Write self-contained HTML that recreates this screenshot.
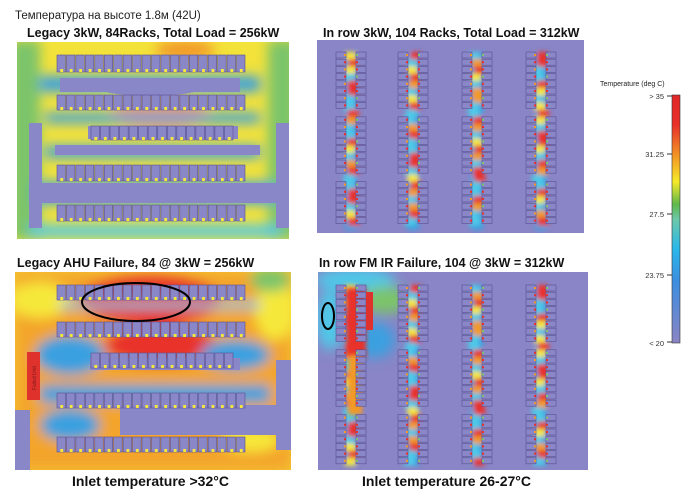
<!DOCTYPE html>
<html><head><meta charset="utf-8"><style>
body{margin:0;background:#fff;width:694px;height:493px;overflow:hidden;font-family:"Liberation Sans","DejaVu Sans",sans-serif}
svg{position:absolute;left:0;top:0}
</style></head><body>
<svg id="s" width="694" height="493" viewBox="0 0 694 493" xmlns="http://www.w3.org/2000/svg">
<defs>
<filter id="b6" x="-20%" y="-20%" width="140%" height="140%"><feGaussianBlur stdDeviation="6"/></filter>
<filter id="b3" x="-20%" y="-20%" width="140%" height="140%"><feGaussianBlur stdDeviation="2.5"/></filter>
<clipPath id="c1"><rect x="17" y="42" width="272" height="197"/></clipPath>
<clipPath id="c2"><rect x="317" y="40" width="267" height="193"/></clipPath>
<clipPath id="c3"><rect x="15" y="272" width="276" height="198"/></clipPath>
<clipPath id="c4"><rect x="318" y="272" width="270" height="198"/></clipPath>
<linearGradient id="cb" x1="0" y1="1" x2="0" y2="0">
<stop offset="0" stop-color="#8a84c4"/><stop offset="0.25" stop-color="#3c8ee0"/><stop offset="0.38" stop-color="#2ab8ea"/><stop offset="0.5" stop-color="#6cc8a8"/><stop offset="0.56" stop-color="#5fb84a"/><stop offset="0.65" stop-color="#f6ea2a"/><stop offset="0.75" stop-color="#f39a25"/><stop offset="0.88" stop-color="#e8302a"/><stop offset="1" stop-color="#e02828"/>
</linearGradient>
</defs>
<text x="15" y="19" font-size="11.5" fill="#222">Температура на высоте 1.8м (42U)</text>
<text x="27" y="37" font-size="12.5" font-weight="bold" fill="#111">Legacy 3kW, 84Racks, Total Load = 256kW</text>
<text x="323" y="37" font-size="12.5" font-weight="bold" fill="#111">In row 3kW, 104 Racks, Total Load = 312kW</text>
<text x="17" y="267" font-size="12.5" font-weight="bold" fill="#111">Legacy AHU Failure, 84 @ 3kW = 256kW</text>
<text x="319" y="267" font-size="12.5" font-weight="bold" fill="#111">In row FM IR Failure, 104 @ 3kW = 312kW</text>
<text x="72" y="486" font-size="14" font-weight="bold" fill="#111">Inlet temperature &gt;32°C</text>
<text x="362" y="486" font-size="14" font-weight="bold" fill="#111">Inlet temperature 26-27°C</text>

<g clip-path="url(#c1)">
<rect x="17" y="42" width="272" height="197" fill="#f3e23a"/>
<g filter="url(#b6)">
<rect x="10" y="40" width="30" height="200" fill="#7cc46a"/>
<rect x="268" y="40" width="30" height="200" fill="#7cc46a"/>
<ellipse cx="160" cy="115" rx="50" ry="15" fill="#f29a2a"/>
<ellipse cx="185" cy="50" rx="30" ry="10" fill="#f29a2a"/>
<rect x="40" y="76" width="220" height="16" fill="#3aa0e0"/>
<rect x="45" y="113" width="215" height="10" fill="#3aa0e0"/>
<rect x="45" y="146" width="215" height="12" fill="#3aa0e0"/>
<rect x="35" y="182" width="240" height="22" fill="#3aa0e0"/>
<rect x="30" y="225" width="250" height="12" fill="#4fc8e8"/>
</g>
<rect x="60" y="78" width="180" height="14" fill="#8a87c9"/>
<ellipse cx="150" cy="88" rx="50" ry="8" fill="#8a87c9"/>
<rect x="55" y="145" width="205" height="10" fill="#8a87c9"/>
<rect x="88" y="126" width="150" height="13" fill="#8a87c9"/>
<rect x="29" y="183" width="250" height="20" fill="#8a87c9"/>
<rect x="29" y="123" width="13" height="105" fill="#8a87c9"/>
<rect x="276" y="123" width="13" height="105" fill="#8a87c9"/>
<g id="r1"></g>
</g>

<g clip-path="url(#c2)">
<rect x="317" y="40" width="267" height="193" fill="#8985c6"/>
<g id="h2" filter="url(#b3)"></g>
<g id="r2"></g>
</g>

<g clip-path="url(#c3)">
<rect x="15" y="272" width="276" height="198" fill="#f4c834"/>
<g filter="url(#b6)">
<rect x="15" y="272" width="276" height="198" fill="#f39a25" opacity="0.75"/>
<ellipse cx="150" cy="300" rx="70" ry="25" fill="#e8302a"/>
<ellipse cx="160" cy="345" rx="55" ry="20" fill="#e8302a"/>
<ellipse cx="40" cy="300" rx="30" ry="18" fill="#f6e83a"/>
<ellipse cx="275" cy="310" rx="20" ry="30" fill="#f6e83a"/>
<ellipse cx="270" cy="280" rx="20" ry="12" fill="#7cc46a"/>
<ellipse cx="70" cy="355" rx="35" ry="20" fill="#3aa0e0"/>
<ellipse cx="235" cy="355" rx="35" ry="15" fill="#3aa0e0"/>
<rect x="40" y="385" width="230" height="18" fill="#3aa0e0"/>
<ellipse cx="70" cy="425" rx="30" ry="16" fill="#3aa0e0"/>
<rect x="60" y="302" width="200" height="6" fill="#4fc8e8"/>
<ellipse cx="250" cy="440" rx="30" ry="12" fill="#f6e83a"/>
</g>
<rect x="90" y="358" width="150" height="12" fill="#8a87c9"/>
<rect x="120" y="405" width="160" height="30" fill="#8a87c9"/>
<rect x="15" y="410" width="15" height="60" fill="#8a87c9"/>
<rect x="276" y="360" width="15" height="90" fill="#8a87c9"/>
<g id="r3"></g>
<rect x="27" y="352" width="13" height="48" fill="#e0322c"/>
<text transform="translate(36,390) rotate(-90)" font-size="5" fill="#7a1a1a">Failed Unit</text>
<ellipse cx="136" cy="302" rx="54" ry="19" fill="none" stroke="#000" stroke-width="2"/>
</g>

<g clip-path="url(#c4)">
<rect x="318" y="272" width="270" height="198" fill="#8985c6"/>
<g filter="url(#b6)">
<ellipse cx="355" cy="280" rx="40" ry="12" fill="#4fc8e8"/>
<ellipse cx="330" cy="320" rx="14" ry="30" fill="#4fc8e8"/>
<ellipse cx="385" cy="300" rx="25" ry="14" fill="#7cc46a"/>
<ellipse cx="375" cy="340" rx="20" ry="18" fill="#3aa0e0"/>
</g>
<g id="h4" filter="url(#b3)"></g>
<rect x="346" y="288" width="20" height="70" fill="#e8302a" filter="url(#b3)"/>
<rect x="348" y="355" width="14" height="60" fill="#f39a25" filter="url(#b3)"/>
<g id="r4"></g>
<rect x="366" y="292" width="7" height="38" fill="#e0322c"/>
<ellipse cx="328" cy="316" rx="6" ry="13" fill="none" stroke="#000" stroke-width="2"/>
</g>

<text x="600" y="86" font-size="7" fill="#222">Temperature (deg C)</text>
<rect x="672" y="95" width="8" height="248" fill="url(#cb)" stroke="#333" stroke-width="0.6"/>
<g font-size="7.5" fill="#333" text-anchor="end">
<text x="664" y="99">&gt; 35</text>
<text x="664" y="157">31.25</text>
<text x="664" y="217">27.5</text>
<text x="664" y="278">23.75</text>
<text x="664" y="346">&lt; 20</text>
</g>
<g stroke="#333" stroke-width="1">
<line x1="667" y1="96" x2="672" y2="96"/><line x1="667" y1="154" x2="672" y2="154"/><line x1="667" y1="214" x2="672" y2="214"/><line x1="667" y1="275" x2="672" y2="275"/><line x1="667" y1="342" x2="672" y2="342"/>
</g>
</svg>
<script>
var NS="http://www.w3.org/2000/svg";
function R(g,x,y,w,h,f,s,o){var r=document.createElementNS(NS,"rect");r.setAttribute("x",x);r.setAttribute("y",y);r.setAttribute("width",w);r.setAttribute("height",h);r.setAttribute("fill",f);if(s){r.setAttribute("stroke",s);r.setAttribute("stroke-width",0.6);}if(o)r.setAttribute("opacity",o);g.appendChild(r);}
function row(g,x0,x1,y,h,n){var w=(x1-x0)/n;for(var i=0;i<n;i++){R(g,x0+i*w,y,w-1,h,"#8a87c9","#5a5090");R(g,x0+i*w+w*0.35,y+h-3,w*0.3,3,"#f6e83a");}}
var r1=document.getElementById("r1");
row(r1,57,246,55,17,20);row(r1,57,246,95,15,20);row(r1,91,234,126,14,15);row(r1,57,246,165,16,20);row(r1,57,246,205,16,20);
var r3=document.getElementById("r3");
row(r3,57,246,285,15,20);row(r3,57,246,322,15,20);row(r3,91,234,353,15,15);row(r3,57,246,393,15,20);row(r3,57,246,437,15,20);
function cols(gr,gh,cx,y0,y1){for(var c=0;c<4;c++){var x=cx[c];
 var n=Math.floor((y1-y0)/7.2);
 R(gh,x+9,y0,12,y1-y0,"#3aa0e0");
 for(var k=0;k<n;k++){var y=y0+k*7.2;var t=Math.sin(k*1.7+c*2.3)+0.3*Math.sin(k*0.4+c);
  var col=t>0.6?"#e8302a":(t>0.1?"#f39a25":(t>-0.4?"#f6e83a":"#4fc8e8"));
  R(gh,x+9+(t*3),y,11,8,col);}
 for(var k=0;k<n;k++){var y=y0+k*7.2;if(k%9==8)continue;
  R(gr,x,y,10,6,"#8a87c9","#5a5090");R(gr,x+20,y,10,6,"#8a87c9","#5a5090");
  R(gr,x+8,y+2,2,2,k%2?"#e8302a":"#f39a25");R(gr,x+20,y+2,2,2,k%3?"#e8302a":"#7cc46a");}
}}
cols(document.getElementById("r2"),document.getElementById("h2"),[336,398,462,526],52,230);
cols(document.getElementById("r4"),document.getElementById("h4"),[336,398,462,526],285,466);
</script>
</body></html>
